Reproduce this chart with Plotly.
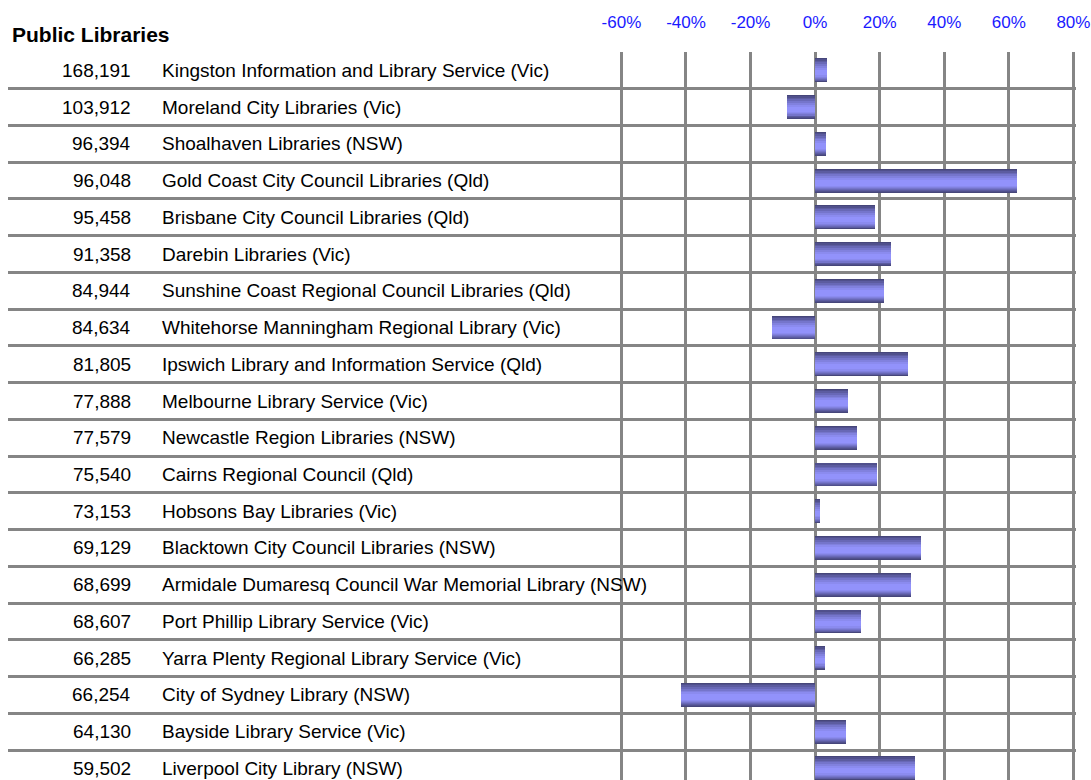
import plotly.graph_objects as go

# ---- data ----
libraries = [
    "Kingston Information and Library Service (Vic)",
    "Moreland City Libraries (Vic)",
    "Shoalhaven Libraries (NSW)",
    "Gold Coast City Council Libraries (Qld)",
    "Brisbane City Council Libraries (Qld)",
    "Darebin Libraries (Vic)",
    "Sunshine Coast Regional Council Libraries (Qld)",
    "Whitehorse Manningham Regional Library (Vic)",
    "Ipswich Library and Information Service (Qld)",
    "Melbourne Library Service (Vic)",
    "Newcastle Region Libraries (NSW)",
    "Cairns Regional Council (Qld)",
    "Hobsons Bay Libraries (Vic)",
    "Blacktown City Council Libraries (NSW)",
    "Armidale Dumaresq Council War Memorial Library (NSW)",
    "Port Phillip Library Service (Vic)",
    "Yarra Plenty Regional Library Service (Vic)",
    "City of Sydney Library (NSW)",
    "Bayside Library Service (Vic)",
    "Liverpool City Library (NSW)",
]
counts = [
    "168,191", "103,912", "96,394", "96,048", "95,458", "91,358", "84,944",
    "84,634", "81,805", "77,888", "77,579", "75,540", "73,153", "69,129",
    "68,699", "68,607", "66,285", "66,254", "64,130", "59,502",
]
change_pct = [
    3.8, -8.8, 3.5, 62.4, 18.4, 23.6, 21.2, -13.5, 28.9, 10.1,
    13.1, 19.3, 1.4, 32.9, 29.8, 14.3, 2.9, -41.4, 9.7, 30.9,
]
tick_values = [-0.6, -0.4, -0.2, 0.0, 0.2, 0.4, 0.6, 0.8]
tick_labels = ["-60%", "-40%", "-20%", "0%", "20%", "40%", "60%", "80%"]
title_text = "Public Libraries"

change = [v / 100.0 for v in change_pct]

# ---- bars with simulated vertical gradient (overlaid layers) ----
layers = [
    (0.65, "#46467a", 0.0),
    (0.60, "#50508c", 0.0),
    (0.54, "#5c5ca0", 0.01),
    (0.47, "#6868b6", 0.02),
    (0.40, "#7575cb", 0.03),
    (0.32, "#8181de", 0.04),
    (0.24, "#8b8bef", 0.05),
    (0.15, "#9292fb", 0.06),
]

fig = go.Figure()
for w, c, shift in layers:
    fig.add_trace(go.Bar(
        x=change, y=libraries, orientation="h",
        width=w, offset=-w / 2 + shift,
        marker=dict(color=c, line=dict(width=0)),
        hoverinfo="skip", showlegend=False,
    ))

font_family = "Arial, Liberation Sans, sans-serif"

annotations = []
for name, cnt in zip(libraries, counts):
    annotations.append(dict(
        x=0.117, xref="paper", y=name, yref="y", text=cnt,
        showarrow=False, xanchor="right", yanchor="middle",
        font=dict(family=font_family, size=19, color="#000000"),
    ))
    annotations.append(dict(
        x=0.1423, xref="paper", y=name, yref="y", text=name,
        showarrow=False, xanchor="left", yanchor="middle",
        font=dict(family=font_family, size=19, color="#000000"),
    ))
annotations.append(dict(
    x=0.002, xref="paper", y=1, yref="paper", text="<b>" + title_text + "</b>",
    showarrow=False, xanchor="left", yanchor="bottom", yshift=4,
    font=dict(family=font_family, size=21, color="#000000"),
))

fig.update_layout(
    width=1091, height=780,
    margin=dict(l=8, r=15, t=52, b=0, pad=0),
    paper_bgcolor="white", plot_bgcolor="white",
    barmode="overlay",
    bargap=0,
    annotations=annotations,
    hovermode=False,
    xaxis=dict(
        range=[-2.5, 0.808], side="top",
        tickvals=tick_values, ticktext=tick_labels,
        tickfont=dict(family=font_family, size=17, color="#1a1aff"),
        showgrid=True, gridcolor="#858585", gridwidth=3,
        zeroline=False, showline=False, ticks="",
        ticklabelstandoff=20,
        fixedrange=True,
    ),
    yaxis=dict(
        type="category", categoryorder="array", categoryarray=libraries,
        range=[19.315, -0.5],
        showticklabels=False, ticks="",
        tickson="boundaries",
        showgrid=True, gridcolor="#858585", gridwidth=3,
        zeroline=False, showline=False,
        fixedrange=True,
    ),
)

fig.write_html(
    "out.html",
    config={"displayModeBar": False, "staticPlot": True},
    post_script="document.body.style.margin='0';document.body.style.overflow='hidden';",
)
